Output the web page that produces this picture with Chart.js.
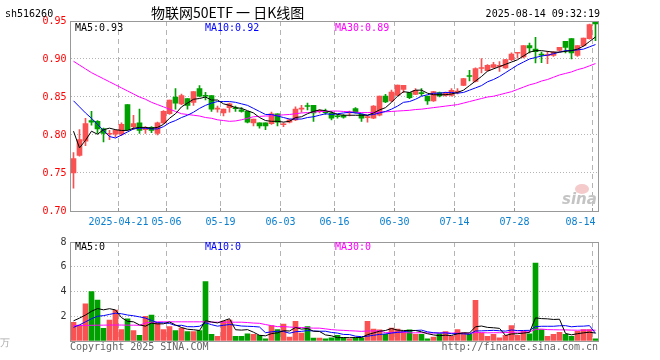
<!DOCTYPE html>
<html>
<head>
<meta charset="utf-8">
<script src="https://cdn.jsdelivr.net/npm/chart.js@4.4.1/dist/chart.umd.min.js"></script>
<style>
  html, body { margin: 0; padding: 0; background: #fff; }
  #wrap { position: relative; width: 660px; height: 360px; }
  #price { position: absolute; left: 0; top: 0; }
  #vol { position: absolute; left: 0; top: 232px; }
</style>
</head>
<body>
<div id="wrap">
  <canvas id="price" width="660" height="232"></canvas>
  <canvas id="vol" width="660" height="128"></canvas>
</div>
<script>
// trading days shown (MM-DD, 2025)
const dates = [
  '04-09','04-10','04-11','04-14','04-15','04-16','04-17','04-18',
  '04-21','04-22','04-23','04-24','04-25','04-28','04-29','04-30',
  '05-06','05-07','05-08','05-09','05-12','05-13','05-14','05-15','05-16',
  '05-19','05-20','05-21','05-22','05-23','05-26','05-27','05-28','05-29','05-30',
  '06-03','06-04','06-05','06-06','06-09','06-10','06-11','06-12','06-13',
  '06-16','06-17','06-18','06-19','06-20','06-23','06-24','06-25','06-26','06-27',
  '06-30','07-01','07-02','07-03','07-04','07-07','07-08','07-09','07-10','07-11',
  '07-14','07-15','07-16','07-17','07-18','07-21','07-22','07-23','07-24','07-25',
  '07-28','07-29','07-30','07-31','08-01','08-04','08-05','08-06','08-07','08-08',
  '08-11','08-12','08-13','08-14',
];

// x axis labels (date -> text)
const tickLabels = {
  '04-21': '2025-04-21', '05-06': '05-06', '05-19': '05-19', '06-03': '06-03',
  '06-16': '06-16', '06-30': '06-30', '07-14': '07-14', '07-28': '07-28',
  '08-14': '08-14    ',
};

const openP = [
  .750,.773,.792,.819,.818,.808,.801,.801,.801,.840,.811,.816,.807,.810,.802,.816,
  .828,.850,.841,.848,.843,.861,.852,.852,.834,.829,.836,.835,.833,.831,.816,.816,
  .816,.815,.828,.8135,.817,.820,.834,.838,.839,.831,.830,.829,.8245,.8255,.829,.8347,
  .8272,.8228,.822,.826,.8513,.8447,.8522,.860,.8558,.8535,.855,.8513,.8447,.8558,.852,.852,
  .8565,.8654,.878,.8706,.8875,.8846,.889,.8902,.8882,.899,.9076,.9026,.9175,.913,
  .906,.9045,.9048,.9114,.9232,.9268,.9048,.9175,.9268,.9487,
];
const highP = [
  .777,.807,.822,.831,.819,.809,.806,.807,.816,.840,.826,.834,.811,.811,.817,.832,
  .846,.861,.854,.848,.857,.865,.856,.852,.838,.834,.842,.838,.836,.831,.821,.816,
  .816,.830,.828,.816,.821,.837,.839,.842,.839,.833,.834,.831,.827,.827,.8316,.836,
  .8275,.826,.8386,.8513,.8536,.859,.8658,.8654,.8558,.861,.861,.8513,.8575,.8565,.8565,.861,
  .861,.8745,.885,.8885,.9004,.8925,.8955,.8965,.8995,.908,.908,.9175,.921,.9285,
  .909,.910,.9096,.9154,.9232,.9268,.9175,.9276,.946,.949,
];
const lowP = [
  .730,.772,.786,.813,.802,.791,.794,.797,.799,.806,.807,.802,.802,.803,.800,.815,
  .827,.834,.840,.834,.839,.850,.846,.831,.830,.825,.830,.831,.830,.816,.812,.809,
  .807,.814,.812,.811,.816,.819,.830,.833,.818,.829,.827,.820,.822,.822,.825,.8286,
  .818,.817,.8215,.825,.8426,.8434,.8516,.8558,.8479,.853,.8518,.8404,.8442,.850,.851,.851,
  .854,.865,.871,.870,.8816,.884,.8875,.8838,.8875,.8978,.901,.9013,.908,.8947,
  .8953,.894,.9035,.910,.908,.900,.9035,.9167,.926,.924,
];
const closeP = [
  .769,.794,.815,.817,.808,.802,.802,.806,.814,.807,.815,.806,.809,.806,.816,.831,
  .846,.842,.852,.839,.857,.851,.851,.834,.835,.834,.841,.8345,.831,.817,.821,.812,
  .812,.828,.817,.814,.820,.834,.8345,.8375,.829,.8315,.8295,.822,.824,.8235,.8297,.8295,
  .822,.8232,.838,.8513,.8434,.8566,.8658,.8654,.849,.8588,.8545,.8447,.857,.8513,.8558,.8588,
  .857,.8742,.877,.8873,.8885,.8917,.8925,.8906,.8991,.9066,.9082,.9175,.9145,.9095,
  .905,.905,.909,.9154,.9154,.908,.9175,.9276,.9452,.946,
];

const ma5 = [
  .805,.783,.793,.805,.801,.807,.809,.807,.806,.806,.809,.810,.810,.809,.810,.814,
  .822,.828,.837,.842,.847,.848,.850,.846,.846,.841,.839,.836,.835,.832,.829,.823,
  .819,.818,.818,.817,.818,.823,.824,.828,.831,.833,.832,.830,.827,.826,.826,.826,
  .826,.826,.829,.833,.836,.843,.851,.857,.856,.859,.859,.855,.853,.853,.853,.854,
  .856,.859,.865,.871,.877,.884,.887,.890,.893,.896,.899,.904,.909,.911,
  .911,.910,.909,.909,.910,.911,.913,.917,.923,.929,
];
const ma10 = [
  .845,.837,.829,.822,.814,.806,.798,.796,.800,.804,.808,.809,.809,.808,.808,.811,
  .816,.819,.823,.826,.830,.835,.839,.842,.844,.844,.844,.843,.841,.839,.835,.831,
  .827,.827,.825,.823,.821,.821,.821,.823,.824,.826,.828,.827,.828,.829,.830,.829,
  .828,.826,.827,.829,.831,.834,.838,.843,.844,.847,.851,.853,.855,.855,.856,.856,
  .855,.856,.859,.862,.865,.870,.873,.877,.882,.887,.892,.896,.900,.902,
  .904,.905,.907,.909,.911,.911,.912,.913,.916,.919,
];
const ma30 = [
  .897,.892,.887,.882,.878,.874,.870,.866,.862,.858,.854,.850,.847,.843,.840,.837,
  .834,.831,.828,.827,.826,.825,.823,.822,.820,.819,.818,.8185,.820,.822,.824,.8245,
  .825,.825,.826,.8265,.827,.828,.829,.8295,.830,.831,.831,.8315,.8315,.831,.8305,.830,
  .8295,.8295,.8295,.830,.8305,.831,.8315,.832,.8325,.8335,.834,.835,.836,.837,.838,.839,
  .840,.842,.844,.846,.848,.850,.851,.853,.855,.857,.860,.863,.866,.868,
  .871,.873,.876,.879,.881,.883,.886,.888,.891,.894,
];

// volume, 万手
const volume = [
  1.50,1.29,3.00,4.00,3.30,1.03,1.70,2.50,0.92,1.80,0.84,0.45,2.00,2.10,1.50,0.92,
  1.16,0.84,1.05,0.76,0.76,0.84,4.80,0.53,0.37,1.60,1.70,0.37,0.37,0.58,0.53,0.45,
  0.18,1.24,0.92,1.37,0.32,1.58,0.63,1.16,0.24,0.24,0.18,0.26,0.45,0.26,0.18,0.26,
  0.26,1.58,0.97,0.90,0.53,1.05,0.97,0.79,0.90,0.53,0.53,0.18,0.32,0.58,0.76,0.37,
  0.92,0.66,0.53,3.29,0.63,0.37,0.53,0.26,0.45,1.24,0.45,0.79,0.58,6.29,
  0.92,0.37,0.53,0.71,0.53,0.37,0.79,0.92,0.92,0.18,
];
const volMa5 = [
  1.63,1.85,2.10,2.40,2.62,2.52,2.61,2.51,1.89,1.59,1.55,1.30,1.20,1.44,1.38,1.39,
  1.54,1.30,1.09,0.95,0.91,0.85,1.64,1.54,1.46,1.63,1.80,0.91,0.88,0.92,0.71,0.46,
  0.42,0.60,0.66,0.83,0.81,1.09,0.96,1.01,0.79,0.77,0.49,0.42,0.27,0.28,0.27,0.28,
  0.28,0.51,0.65,0.79,0.85,1.01,0.88,0.85,0.85,0.85,0.74,0.59,0.49,0.43,0.47,0.44,
  0.59,0.66,0.65,1.15,1.21,1.10,1.07,1.02,0.45,0.57,0.59,0.64,0.70,1.87,
  1.81,1.79,1.74,1.76,0.61,0.50,0.59,0.66,0.71,0.64,
];
const volMa10 = [
  1.10,1.30,1.55,1.80,2.00,2.05,2.15,2.25,2.20,2.10,2.04,1.95,1.85,1.66,1.48,1.47,
  1.42,1.25,1.27,1.16,1.15,1.19,1.47,1.32,1.20,1.27,1.33,1.28,1.21,1.19,1.17,1.13,
  0.67,0.74,0.79,0.77,0.63,0.75,0.78,0.84,0.81,0.79,0.79,0.69,0.64,0.53,0.52,0.39,
  0.35,0.39,0.46,0.53,0.57,0.64,0.70,0.75,0.82,0.85,0.88,0.74,0.67,0.64,0.66,0.59,
  0.59,0.58,0.54,0.81,0.82,0.84,0.86,0.83,0.80,0.89,0.84,0.85,0.86,1.16,
  1.19,1.19,1.19,1.23,1.24,1.15,1.19,1.20,1.24,0.62,
];
const volMa30 = [
  1.25,1.25,1.26,1.27,1.28,1.28,1.29,1.29,1.29,1.28,1.28,1.27,1.45,1.52,1.55,1.55,
  1.55,1.55,1.55,1.55,1.55,1.55,1.55,1.52,1.52,1.52,1.52,1.52,1.52,1.49,1.45,1.43,
  1.33,1.24,1.16,1.17,1.13,1.10,1.09,1.06,1.04,1.04,0.98,0.92,0.88,0.86,0.83,0.81,
  0.78,0.81,0.81,0.82,0.67,0.69,0.71,0.68,0.66,0.66,0.67,0.65,0.65,0.65,0.67,0.64,
  0.64,0.62,0.63,0.68,0.68,0.66,0.67,0.67,0.68,0.71,0.71,0.73,0.74,0.94,
  0.96,0.92,0.91,0.90,0.90,0.88,0.87,0.88,0.88,0.87,
];

const UP = '#fa5252';
const DOWN = '#00a000';
const MONO = '"DejaVu Sans Mono", monospace';
const GRID = '#b4b4b4';
const BOX = '#999';

const isUp = i => closeP[i] >= openP[i];
const candleColor = ctx => (isUp(ctx.dataIndex) ? UP : DOWN);
const labelDates = Object.keys(tickLabels);
const vGridColor = ctx => {
  const d = dates[ctx.index];
  return d && labelDates.includes(d) ? GRID : 'rgba(0,0,0,0)';
};

function lineSet(label, data, color) {
  return {
    type: 'line', label, data, borderColor: color, borderWidth: 1,
    pointRadius: 0, tension: 0, order: 0,
  };
}

function xScale(showLabels, height) {
  return {
    type: 'category', offset: true,
    grid: { offset: true, color: vGridColor, drawTicks: false },
    border: { display: false, dash: [5, 4] },
    ticks: {
      display: showLabels, autoSkip: false, maxRotation: 0, minRotation: 0,
      padding: 5, labelOffset: -3, color: '#0a7fd0',
      font: { family: MONO, size: 10 },
      callback: (v, i) => tickLabels[dates[i]] || '',
    },
    afterFit: s => { s.height = height; },
  };
}

const priceDecor = {
  id: 'priceDecor',
  afterDraw(chart) {
    const { ctx, chartArea: a, scales: { x } } = chart;
    ctx.save();
    ctx.strokeStyle = BOX;
    ctx.lineWidth = 1;
    ctx.strokeRect(a.left, a.top + 0.5, a.right - a.left, a.bottom - a.top);
    // small ticks on bottom edge
    dates.forEach((d, i) => {
      if (!labelDates.includes(d)) return;
      const px = x.getPixelForValue(i) - 3;
      ctx.beginPath();
      ctx.moveTo(px, a.bottom - 3);
      ctx.lineTo(px, a.bottom + 0.5);
      ctx.stroke();
    });
    // header
    ctx.fillStyle = '#000';
    ctx.font = `10px ${MONO}`;
    ctx.textAlign = 'left';
    ctx.fillText('sh516260', 5, 17);
    ctx.textAlign = 'right';
    ctx.fillText('2025-08-14 09:32:19', 600, 17);
    ctx.textAlign = 'left';
    ctx.font = '14px "Noto Sans CJK SC"';
    ctx.fillText('物联网50ETF 一 日K线图', 151, 18);
    // MA legend
    ctx.font = `10px ${MONO}`;
    ctx.fillStyle = '#000';
    ctx.fillText('MA5:' + ma5[ma5.length - 1].toFixed(2), 75, 31);
    ctx.fillStyle = '#0000ff';
    ctx.fillText('MA10:' + ma10[ma10.length - 1].toFixed(2), 205, 31);
    ctx.fillStyle = '#ff00ff';
    ctx.fillText('MA30:' + ma30[ma30.length - 1].toFixed(2), 335, 31);
    // watermark
    ctx.fillStyle = '#f4caca';
    ctx.beginPath();
    ctx.ellipse(582, 189, 7, 5, 0, 0, Math.PI * 2);
    ctx.fill();
    ctx.fillStyle = '#c4c4c4';
    ctx.font = `italic bold 15px "DejaVu Sans"`;
    ctx.fillText('sina', 562, 204);
    ctx.restore();
  },
};

const volDecor = {
  id: 'volDecor',
  afterDraw(chart) {
    const { ctx, chartArea: a } = chart;
    ctx.save();
    ctx.strokeStyle = BOX;
    ctx.lineWidth = 1;
    ctx.strokeRect(a.left, a.top + 0.5, a.right - a.left, a.bottom - a.top);
    ctx.font = `10px ${MONO}`;
    ctx.fillStyle = '#000';
    ctx.fillText('MA5:0', 75, 18);
    ctx.fillStyle = '#0000ff';
    ctx.fillText('MA10:0', 205, 18);
    ctx.fillStyle = '#ff00ff';
    ctx.fillText('MA30:0', 335, 18);
    ctx.fillStyle = '#666';
    ctx.fillText('Copyright 2025 SINA.COM', 70, 118);
    ctx.textAlign = 'right';
    ctx.fillText('http://finance.sina.com.cn', 598, 118);
    ctx.textAlign = 'left';
    ctx.fillStyle = '#aaa';
    ctx.fillText('万', 0, 114);
    ctx.restore();
  },
};

new Chart(document.getElementById('price'), {
  data: {
    labels: dates,
    datasets: [
      {
        type: 'bar', label: 'wick', data: lowP.map((l, i) => [l, highP[i]]),
        backgroundColor: candleColor, barThickness: 1, grouped: false, order: 3,
      },
      {
        type: 'bar', label: 'body', data: openP.map((o, i) => [o, closeP[i]]),
        backgroundColor: candleColor, barThickness: 5, minBarLength: 1,
        grouped: false, order: 2,
      },
      lineSet('MA5', ma5, '#000000'),
      lineSet('MA10', ma10, '#0000ff'),
      lineSet('MA30', ma30, '#ff00ff'),
    ],
  },
  options: {
    responsive: false, animation: false, events: [],
    layout: { padding: { top: 21, right: 61.5, left: 0, bottom: 0 } },
    plugins: { legend: { display: false }, tooltip: { enabled: false } },
    scales: {
      x: xScale(true, 21),
      y: {
        min: 0.70, max: 0.95,
        grid: { color: GRID, drawTicks: false },
        border: { display: false, dash: [1, 2] },
        ticks: {
          stepSize: 0.05, padding: 4, color: '#ff0000',
          font: { family: MONO, size: 10 },
          callback: v => v.toFixed(2),
        },
        afterFit: s => { s.width = 70.5; },
      },
    },
  },
  plugins: [priceDecor],
});

new Chart(document.getElementById('vol'), {
  data: {
    labels: dates,
    datasets: [
      {
        type: 'bar', label: 'volume', data: volume,
        backgroundColor: candleColor, barThickness: 5, grouped: false, order: 2,
      },
      lineSet('MA5', volMa5, '#000000'),
      lineSet('MA10', volMa10, '#0000ff'),
      lineSet('MA30', volMa30, '#ff00ff'),
    ],
  },
  options: {
    responsive: false, animation: false, events: [],
    layout: { padding: { top: 8, right: 61.5, left: 0, bottom: 0 } },
    plugins: { legend: { display: false }, tooltip: { enabled: false } },
    scales: {
      x: xScale(false, 19),
      y: {
        min: 0, max: 8,
        grid: { color: GRID, drawTicks: false },
        border: { display: false, dash: [1, 2] },
        ticks: {
          stepSize: 2, padding: 4, color: '#333',
          font: { family: MONO, size: 10 },
          callback: v => (v === 0 ? '' : String(v)),
        },
        afterFit: s => { s.width = 70.5; },
      },
    },
  },
  plugins: [volDecor],
});
</script>
</body>
</html>
